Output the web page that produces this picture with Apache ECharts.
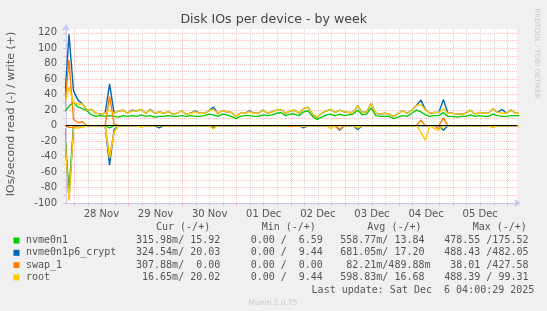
<!DOCTYPE html>
<html><head><meta charset="utf-8">
<script src="https://cdn.jsdelivr.net/npm/echarts@6/dist/echarts.min.js"></script>
<style>html,body{margin:0;padding:0;background:#f0f0f0;}#c{width:547px;height:311px;}</style>
</head><body><div id="c"></div>
<script>
// ---- time grid (hours relative to 28 Nov 00:00) ----
const START_HOUR = -4.35;   // timestamp of first sample
const STEP_HOURS = 2;       // sample spacing
const X_MIN = -3.68, X_MAX = 196.3;

const dayLabels = ['28 Nov','29 Nov','30 Nov','01 Dec','02 Dec','03 Dec','04 Dec','05 Dec'];
const labelHours = [12,36,60,84,108,132,156,180];
const dayLines = [0,24,48,72,96,120,144,168,192];
const sixHourLines = [6,12,18,30,36,42,54,60,66,78,84,90,102,108,114,126,132,138,150,156,162,174,180,186];
const yTickValues = [-100,-90,-80,-70,-60,-50,-40,-30,-20,-10,0,10,20,30,40,50,60,70,80,90,100,110,120];
const yLabelValues = [-100,-80,-60,-40,-20,0,20,40,60,80,100,120];

// ---- series (write = positive, read = negative) ----
const nvme0n1Write = [18,25,30,24,22,19,14,12,13,12, 13,12,11,13,12,13,12,14,12,13, 11,12,12,13,12,12,13,12,13,12, 12,13,15,14,12,15,14,12,9,12, 13,13,12,12,14,13,14,16,17,13, 15,15,13,18,19,12,8,11,14,15, 13,15,13,14,15,20,14,15,23,13, 12,12,12,9,11,13,12,16,20,18, 14,12,13,13,17,12,12,11,12,12, 14,12,13,12,12,15,13,12,12,13, 13,13];
const cryptWrite = [27,118,45,33,28,20,21,16,15,16, 54,16,19,20,16,20,19,21,16,21, 16,18,16,18,15,16,19,15,16,19, 16,16,19,24,16,19,18,17,12,16, 16,19,16,16,20,16,18,20,21,16, 19,20,16,22,24,15,11,16,19,21, 17,20,18,17,17,26,17,18,29,16, 15,16,15,12,16,19,16,20,26,33, 21,16,17,17,34,16,16,15,15,16, 20,15,17,16,16,22,17,21,16,20, 16,16];
const swapWrite = [20,85,8,4,5,0,0,0,0,0, 38,2,0,0,0,0,0,0,0,0, 0,0,0,0,0,0,0,0,0,0, 0,0,0,0,0,0,0,0,0,0, 0,0,0,0,0,0,0,0,0,0, 0,0,0,0,0,0,0,0,0,0, 0,0,0,0,0,0,0,0,0,0, 0,0,0,0,0,0,0,0,0,7, 0,0,0,0,10,0,0,0,0,0, 0,0,0,0,0,0,0,0,0,0, 0,0];
const rootWrite = [27,50,30,28,28,20,21,16,15,16, 20,16,19,20,16,19,19,21,16,20, 16,18,16,18,15,16,19,15,16,18, 16,16,19,21,16,19,18,17,12,16, 16,18,16,16,20,16,18,20,21,16, 19,20,16,22,24,15,11,16,19,21, 17,20,18,17,17,26,17,18,29,16, 15,16,15,12,16,19,16,20,26,27, 21,16,17,17,22,16,16,15,15,16, 20,15,17,16,16,22,17,16,16,20, 16,16];

const nvme0n1Read = [-3,-85,0,0,0,0,0,0,0,0, -3,0,0,0,0,0,0,0,0,0, 0,0,0,0,0,0,0,0,0,0, 0,0,0,0,0,0,0,0,0,0, 0,0,0,0,0,0,0,0,0,0, 0,0,0,0,0,0,0,0,0,0, 0,0,0,0,0,0,0,0,0,0, 0,0,0,0,0,0,0,0,0,0, 0,0,0,0,0,0,0,0,0,0, 0,0,0,0,0,0,0,0,0,0, 0,0];
const cryptRead = [-3,-95,-2,0,0,0,0,0,0,0, -51,-5,0,0,0,0,0,0,0,0, 0,-3,0,0,0,0,0,0,0,0, 0,0,0,-2,0,0,0,0,0,0, 0,0,0,0,0,0,0,0,0,0, 0,0,0,-3,0,0,0,0,0,0, 0,-6,0,0,0,-5,0,0,0,0, 0,0,0,0,0,0,0,0,0,0, 0,0,0,0,-6,0,0,0,0,0, 0,0,0,0,0,0,0,0,0,0, 0,0];
const swapRead = [0,-2,-2,0,0,0,0,0,0,0, -40,-8,0,0,0,0,0,0,0,0, 0,0,0,0,0,0,0,0,0,0, 0,0,0,0,0,0,0,0,0,0, 0,0,0,0,0,0,0,0,0,0, -1,0,0,0,0,0,0,0,0,0, 0,-5,0,0,0,0,0,0,0,0, 0,0,0,0,0,0,0,0,0,0, 0,0,0,-4,0,0,0,0,0,0, 0,0,0,0,0,0,0,0,0,0, 0,0];
const rootRead = [-3,-97,-3,-3,-2,0,0,0,0,0, -42,-8,0,0,0,0,0,-2,0,0, 0,0,0,0,0,0,0,0,0,0, 0,0,0,-4,0,0,0,0,0,0, 0,0,0,0,0,0,0,0,0,0, 0,0,0,-1,0,0,0,0,0,-4, 0,0,0,0,0,-3,0,0,0,0, 0,0,0,0,0,0,0,0,0,-8, -19,0,-4,-6,0,0,0,0,0,0, 0,0,0,0,0,-3,0,0,0,0, 0,0];

// ---- legend table ----
const names = ['nvme0n1','nvme0n1p6_crypt','swap_1','root'];
const colors = ['#00cc00','#0066b3','#ff8000','#ffcc00'];
const curVals = ['315.98m/ 15.92','324.54m/ 20.03','307.88m/  0.00',' 16.65m/ 20.02'];
const minVals = ['  0.00 /  6.59','  0.00 /  9.44','  0.00 /  0.00','  0.00 /  9.44'];
const avgVals = ['558.77m/ 13.84','681.05m/ 17.20',' 82.21m/489.88m','598.83m/ 16.68'];
const maxVals = ['478.55 /175.52','488.43 /482.05',' 38.01 /427.58','488.39 / 99.31'];
const headers = ['Cur (-/+)','Min (-/+)','Avg (-/+)','Max (-/+)'];

const toPairs = arr => arr.map((v,i) => [START_HOUR + i*STEP_HOURS, v]);

const chart = echarts.init(document.getElementById('c'), null, {renderer:'canvas'});
const PINK = 'rgba(235,110,110,0.42)';
const GREY = 'rgba(175,175,175,0.5)';
const AXIS = '#c6c6ee';
const TXT = '#555';
const MONO = '10px "DejaVu Sans Mono"';

const seriesDefs = [
  [nvme0n1Read, nvme0n1Write, colors[0]],
  [cryptRead, cryptWrite, colors[1]],
  [swapRead, swapWrite, colors[2]],
  [rootRead, rootWrite, colors[3]]
];
const series = [];
seriesDefs.forEach(([r,w,c]) => {
  [r,w].forEach(arr => series.push({
    type:'line', data: toPairs(arr), showSymbol:false, symbol:'none',
    lineStyle:{color:c, width:1.4}, itemStyle:{color:c}, animation:false, silent:true
  }));
});
series.push({type:'line', data:[], silent:true, animation:false, z:10,
  markLine:{silent:true, symbol:['none','none'], animation:false, label:{show:false},
    lineStyle:{color:'#000', width:1, type:'solid'}, data:[{yAxis:0}]}});

const colHeaderX = [156, 261.7, 367.3, 472.7];
const colX = [136, 238.6, 340.2, 444.2];
const rowY = [240.5, 252.8, 265.1, 277.4];
const graphics = [];
headers.forEach((h,i) => graphics.push({type:'text', x:colHeaderX[i], y:227.5,
  style:{text:h, font:MONO, fill:TXT, textAlign:'left', textVerticalAlign:'middle'}}));
names.forEach((n,i) => {
  graphics.push({type:'rect', shape:{x:13.5, y:rowY[i]-3, width:6, height:6}, style:{fill:colors[i]}});
  graphics.push({type:'text', x:26, y:rowY[i], style:{text:n, font:MONO, fill:TXT, textVerticalAlign:'middle'}});
  [curVals, minVals, avgVals, maxVals].forEach((col,j) => graphics.push({type:'text', x:colX[j], y:rowY[i],
    style:{text:col[i], font:MONO, fill:TXT, textVerticalAlign:'middle'}}));
});
graphics.push({type:'text', x:311.6, y:290.2, style:{text:'Last update: Sat Dec  6 04:00:29 2025', font:MONO, fill:TXT, textVerticalAlign:'middle'}});
graphics.push({type:'text', x:273, y:303.5, style:{text:'Munin 2.0.75', font:'7.5px "DejaVu Sans"', fill:'#c8c8c8', textAlign:'center', textVerticalAlign:'middle'}});
graphics.push({type:'text', x:273.7, y:20, style:{text:'Disk IOs per device - by week', font:'12.6px "DejaVu Sans"', fill:'#444', textAlign:'center', textVerticalAlign:'middle'}});
graphics.push({type:'text', x:11.5, y:114, rotation:Math.PI/2, style:{text:'IOs/second read (-) / write (+)', font:'11px "DejaVu Sans"', fill:TXT, textAlign:'center', textVerticalAlign:'middle'}});
graphics.push({type:'text', x:536.5, y:53.5, rotation:-Math.PI/2, style:{text:'RRDTOOL / TOBI OETIKER', font:'7px "DejaVu Sans"', fill:'#c8c8c8', textAlign:'center', textVerticalAlign:'middle'}});

chart.setOption({
  animation:false,
  backgroundColor:'#f0f0f0',
  grid:{left:66, right:30, top:29, bottom:108, show:true, backgroundColor:'#ffffff', borderWidth:0, containLabel:false},
  xAxis:[{
    type:'value', min:X_MIN, max:X_MAX, position:'bottom',
    axisLine:{show:true, onZero:false, lineStyle:{color:AXIS, width:1}, symbol:['none','arrow'], symbolSize:[6,7], symbolOffset:[0,4]},
    axisTick:{show:true, customValues:dayLines, length:3, lineStyle:{color:PINK}},
    axisLabel:{show:true, customValues:labelHours, color:TXT, fontSize:10, fontFamily:'DejaVu Sans', margin:6,
      formatter:v => dayLabels[labelHours.indexOf(v)] || ''},
    splitLine:{show:true, lineStyle:{color:PINK, type:'dotted', width:1}}
  },{
    type:'value', min:X_MIN, max:X_MAX, position:'bottom',
    axisLine:{show:false, onZero:false},
    axisTick:{show:true, customValues:sixHourLines, length:3, lineStyle:{color:GREY}},
    axisLabel:{show:false},
    splitLine:{show:true, lineStyle:{color:GREY, type:'dotted', width:1}}
  }],
  yAxis:{
    type:'value', min:-100, max:125,
    axisLine:{show:true, onZero:false, lineStyle:{color:AXIS, width:1}, symbol:['none','arrow'], symbolSize:[6,7], symbolOffset:[0,5]},
    axisTick:{show:true, customValues:yTickValues, length:3, lineStyle:{color:PINK}},
    axisLabel:{show:true, customValues:yLabelValues, color:TXT, fontSize:10, fontFamily:'DejaVu Sans', margin:9},
    splitLine:{show:true, lineStyle:{color:PINK, type:'dotted', width:1}}
  },
  series:series,
  graphic:graphics
});
</script></body></html>
